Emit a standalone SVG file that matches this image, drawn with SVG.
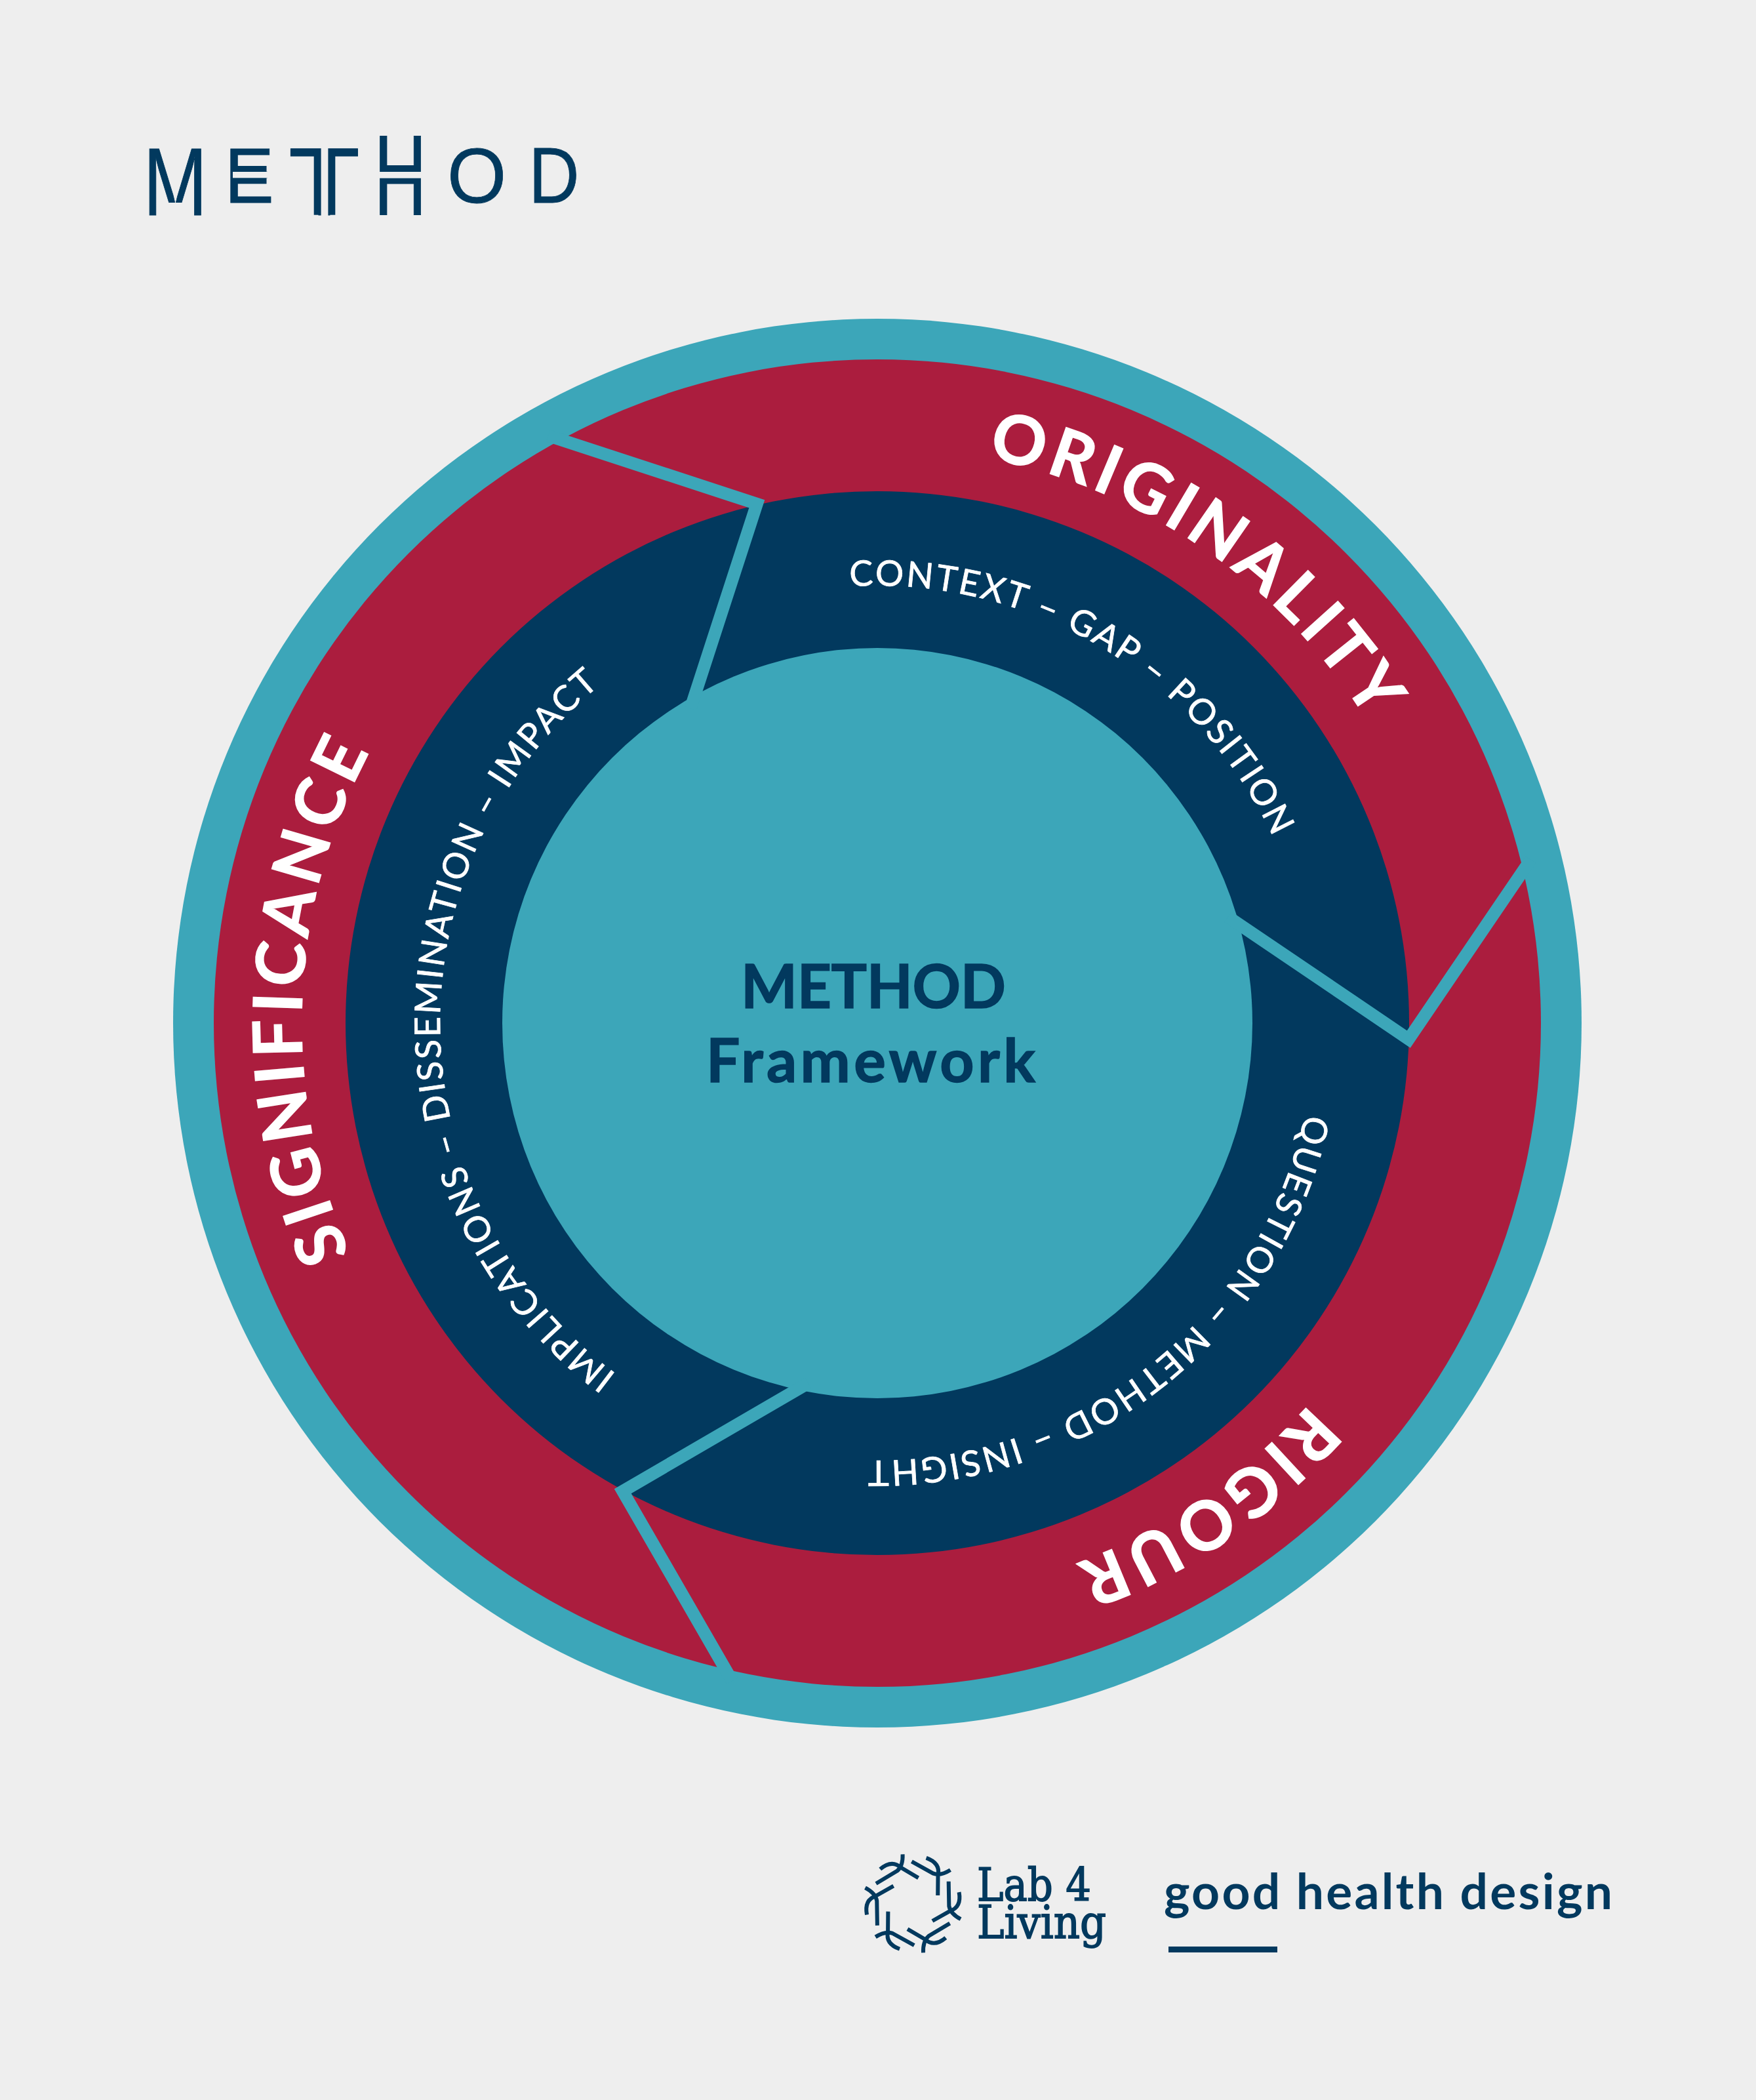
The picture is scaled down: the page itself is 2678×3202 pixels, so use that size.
<svg xmlns="http://www.w3.org/2000/svg" xmlns:xlink="http://www.w3.org/1999/xlink" width="2678" height="3202" viewBox="0 0 2678 3202">
<style>
.big{font-family:Lato,"Liberation Sans",sans-serif;font-weight:700;font-size:103px;fill:#fff;stroke:#fff;stroke-width:1.5}
.small{font-family:Lato,"Liberation Sans",sans-serif;font-weight:400;font-size:54px;fill:#fff;stroke:#fff;stroke-width:.8}
.center{font-family:Lato,"Liberation Sans",sans-serif;font-weight:700;font-size:91px;fill:#02395e;stroke:#02395e;stroke-width:1.5}
.logo{font-family:"Liberation Sans",sans-serif;font-size:100px;fill:#02395e;stroke:#02395e;stroke-width:.7}
.lab{font-family:"DejaVu Serif",serif;font-size:70px;font-weight:400;fill:#02395e;stroke:#02395e;stroke-width:1.8}
.ghd{font-family:Lato,sans-serif;font-weight:700;font-size:75px;fill:#02395e}
.sep{fill:none;stroke:#3ca6b9;stroke-width:19;stroke-linejoin:miter}
.nv{fill:#02395e}.bg{fill:#eee}
.br{fill:none;stroke:#02395e;stroke-width:6}
</style>
<defs>
<path id="r878" d="M1338,682 A878,878 0 1 1 1337.9,682"/>
<path id="r667" d="M1338,893 A667,667 0 1 1 1337.9,893"/>
<g id="unit"><path class="br" d="M-56.3,-30.3 L-24,-49.7 Q-15,-57.3 -15.7,-75"/><path class="br" d="M8.3,-39 L-18.3,-54.7 Q-32.3,-67.3 -50,-52.3"/></g>
</defs>
<rect width="2678" height="3202" fill="#eee"/>
<g id="rings">
<circle cx="1338" cy="1560" r="1074" fill="#3ca6b9"/>
<circle cx="1338" cy="1560" r="1012" fill="#ab1d3e"/>
<circle cx="1338" cy="1560" r="811" fill="#02395e"/>
<circle cx="1338" cy="1560" r="572" fill="#3ca6b9"/>
</g>
<g id="connectors">
<polyline class="sep" points="836,664.3 1154.3,768.3 1053.1,1080"/>
<polyline class="sep" points="2334.2,1311 2148.3,1584.5 1872.7,1397.8"/>
<polyline class="sep" points="1232.6,2109 949.7,2273.7 1116.7,2563.1"/>
</g>
<g id="originality"><text class="big" transform="rotate(11.0 1338 1560)"><textPath href="#r878" textLength="725">ORIGINALITY</textPath></text></g>
<g id="rigour"><text class="big" transform="rotate(131.4 1338 1560)"><textPath href="#r878" textLength="435">RIGOUR</textPath></text></g>
<g id="significance"><text class="big" transform="rotate(246.4 1338 1560)"><textPath href="#r878" textLength="792">SIGNIFICANCE</textPath></text></g>
<g id="context"><text class="small" transform="rotate(-3.6 1338 1560)"><textPath href="#r667" textLength="796">CONTEXT – GAP – POSITION</textPath></text></g>
<g id="question"><text class="small" transform="rotate(102 1338 1560)"><textPath href="#r667" textLength="922">QUESTION – METHOD – INSIGHT</textPath></text></g>
<g id="implications"><text class="small" transform="rotate(216.6 1338 1560)"><textPath href="#r667" textLength="1210">IMPLICATIONS – DISSEMINATION – IMPACT</textPath></text></g>
<g id="center-label">
<text class="center" x="1130" y="1536.7" textLength="404">METHOD</text>
<text class="center" x="1077" y="1650" textLength="502">Framework</text>
</g>
<g id="method-logo">
<text class="logo" transform="translate(218.5,327.7) scale(1.17,1.47)">M</text>
<rect class="bg" x="240" y="309" width="56" height="20"/>
<text class="logo" transform="translate(342.5,308.7) scale(1.13,1.19)">E</text>
<rect class="nv" x="355" y="253" width="51.5" height="27.3"/>
<rect class="bg" x="355" y="262" width="62" height="9.3"/>
<text class="logo" transform="translate(439.5,327.7) scale(1.8,1.47)">T</text>
<rect class="nv" x="478.7" y="230" width="32.6" height="97.7"/>
<rect class="bg" x="489.6" y="224" width="10.8" height="105"/>
<text class="logo" transform="translate(570.5,327.7) scale(1.11,1.745)">H</text>
<rect class="nv" x="585" y="252" width="52" height="28.5"/>
<rect class="bg" x="575" y="262" width="72" height="9.7"/>
<text class="logo" transform="translate(682,308.5) scale(1.16,1.18)">O</text>
<text class="logo" transform="translate(806.2,308.7) scale(1.07,1.2)">D</text>
</g>
<g id="lab4living-logo">
<g transform="translate(1392.3,2902.3)">
<use href="#unit"/><use href="#unit" transform="rotate(60)"/><use href="#unit" transform="rotate(120)"/><use href="#unit" transform="rotate(180)"/><use href="#unit" transform="rotate(240)"/><use href="#unit" transform="rotate(300)"/>
</g>
<text class="lab" x="1490" y="2898.3" textLength="174" lengthAdjust="spacingAndGlyphs">Lab 4</text>
<text class="lab" x="1490" y="2955" textLength="197" lengthAdjust="spacingAndGlyphs">Living</text>
</g>
<g id="ghd-logo">
<text class="ghd" x="1775" y="2910.7" textLength="684">good health design</text>
<rect class="nv" x="1782" y="2968" width="166" height="9"/>
</g>
</svg>
